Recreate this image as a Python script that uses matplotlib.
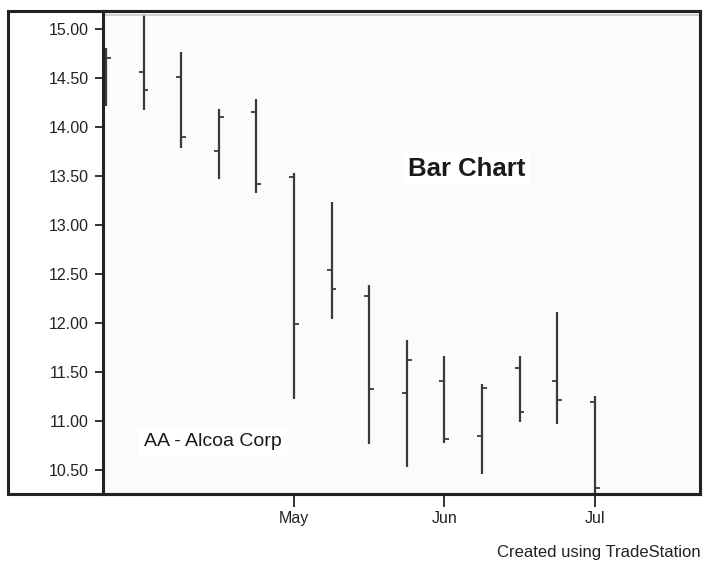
import matplotlib
matplotlib.use('Agg')
import matplotlib.pyplot as plt
from matplotlib.patches import Rectangle
import numpy as np

plt.rcParams['font.family'] = ['Liberation Sans', 'DejaVu Sans']

# weekly OHLC
opens = [14.45, 14.56, 14.51, 13.76, 14.15, 13.49, 12.54, 12.28, 11.29, 11.41, 10.85, 11.54, 11.41, 11.19]
highs = [14.81, 15.15, 14.77, 14.18, 14.29, 13.53, 13.23, 12.39, 11.83, 11.66, 11.38, 11.66, 12.11, 11.26]
lows = [14.21, 14.17, 13.79, 13.47, 13.33, 11.22, 12.04, 10.77, 10.53, 10.78, 10.46, 10.99, 10.97, 10.20]
closes = [14.70, 14.38, 13.90, 14.10, 13.42, 11.99, 12.35, 11.33, 11.62, 10.82, 11.34, 11.09, 11.21, 10.32]
month_labels = ['May', 'Jun', 'Jul']
month_bar_idx = [5, 9, 13]
y_ticks = [10.5, 11.0, 11.5, 12.0, 12.5, 13.0, 13.5, 14.0, 14.5, 15.0]

W, H = 706, 563
fig = plt.figure(figsize=(W / 100, H / 100), dpi=100)
fig.patch.set_facecolor('white')

ax = fig.add_axes([103 / W, 1 - 494 / H, (700 - 103) / W, (494 - 11) / H])
ax.set_facecolor('#fbfbfb')

x = np.arange(len(opens))
bar_col = '#3a3a3a'
tk = 0.13
ax.vlines(x, lows, highs, color=bar_col, lw=1.6)
ax.hlines(opens, x - tk, x, color=bar_col, lw=1.3)
ax.hlines(closes, x, x + tk, color=bar_col, lw=1.3)

ax.axhline(15.145, color='#c8c8c8', lw=1.2)

ax.set_xlim(-0.08, 15.8)
ax.set_ylim(10.255, 15.184)

ax.set_yticks(y_ticks)
ax.set_yticklabels([f'{v:.2f}' for v in y_ticks])
ax.set_xticks(month_bar_idx)
ax.set_xticklabels(month_labels)
ax.tick_params(axis='y', length=6, width=1.3, pad=4, labelsize=11.5, colors='#222222')
ax.tick_params(axis='x', length=9, width=1.3, pad=3, labelsize=11.5, colors='#222222')

for s in ax.spines.values():
    s.set_linewidth(2.2)
    s.set_color('#222222')

# outer frame around the price labels
fig.add_artist(Rectangle((8 / W, 1 - 494 / H), (700 - 8) / W, (494 - 11) / H,
                         transform=fig.transFigure, fill=False, lw=2.2, ec='#222222'))

ax.text(0.61, 0.673, 'Bar Chart', transform=ax.transAxes, ha='center', va='center',
        fontsize=18.5, fontweight='bold', color='#1a1a1a',
        bbox=dict(facecolor='white', edgecolor='none', pad=3))
ax.text(0.068, 0.108, 'AA - Alcoa Corp', transform=ax.transAxes, ha='left', va='center',
        fontsize=14, color='#1a1a1a',
        bbox=dict(facecolor='white', edgecolor='none', pad=4))

fig.text(701 / W, 1 - 553 / H, 'Created using TradeStation', ha='right', va='center',
         fontsize=12, color='#222222')

fig.savefig('out.png', dpi=100)
